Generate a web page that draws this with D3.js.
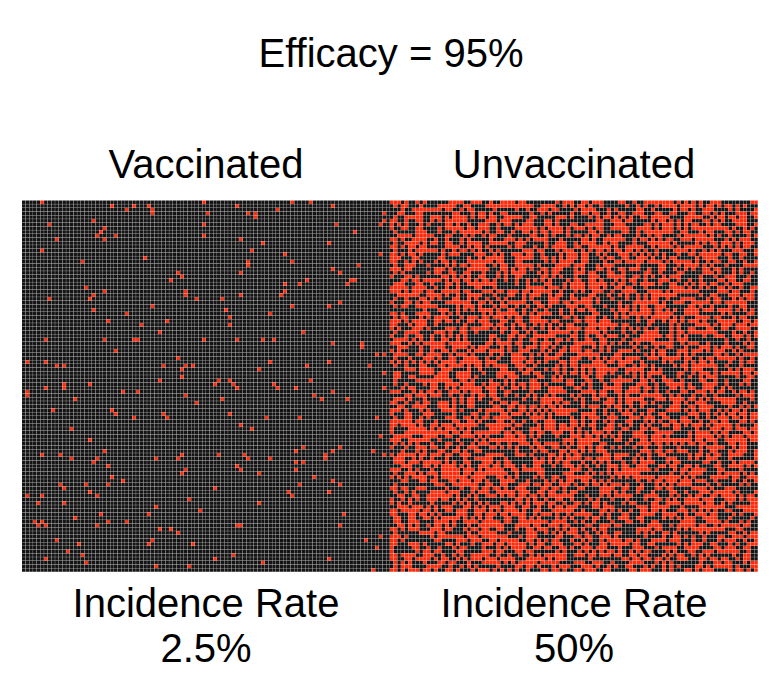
<!DOCTYPE html>
<html>
<head>
<meta charset="utf-8">
<script src="https://cdn.jsdelivr.net/npm/d3@7"></script>
<style>
  body { margin: 0; background: #fff; }
  text { font-family: "Liberation Sans", Arial, sans-serif; fill: #000; }
</style>
</head>
<body>
<svg id="chart" width="776" height="692"></svg>
<script>
const title = "Efficacy = 95%";
const groups = ["Vaccinated", "Unvaccinated"];
const rateLabels = ["2.5%", "50%"];
const gridSize = 100; // 100 x 100 people per group
const infectedCounts = [250, 5000];

// infected cells, [column, row]
const vaccinatedInfected = [
  [5,0],[49,0],[24,1],[30,1],[34,1],[28,2],[35,2],[35,3],[7,6],[19,5],[49,6],[22,7],[21,8],[20,9],
  [25,9],[49,9],[9,10],[22,10],[5,13],[16,16],[33,15],[42,19],[43,20],[40,21],[17,23],[22,24],
  [44,24],[44,25],[19,25],[7,26],[18,26],[47,26],[35,28],[19,29],[28,30],[23,32],[39,32],[32,33],
  [37,35],[6,37],[22,37],[30,37],[31,37],[49,37],[25,40],[42,42],[1,43],[6,43],[9,44],[11,44],
  [38,44],[44,44],[46,44],[43,45],[43,47],[11,49],[18,49],[37,48],
  [58,1],[50,3],[61,3],[63,3],[63,4],[69,2],[73,0],[78,0],[84,1],[98,3],[98,5],[97,6],[85,6],
  [90,8],[59,10],[65,11],[83,11],[62,13],[71,14],[97,14],[73,16],[61,16],[61,17],[91,17],[84,18],
  [59,19],[86,19],[89,21],[90,21],[77,21],[88,22],[71,22],[75,22],[71,24],[70,25],[54,26],[59,25],
  [73,28],[83,28],[86,27],[55,29],[56,31],[56,33],[67,30],[76,35],[58,37],[65,37],[68,37],[84,38],
  [92,38],[92,39],[96,41],[98,41],[67,43],[83,43],[77,44],[94,44],[64,45],[98,46],[53,48],[56,48],
  [52,49],[57,49],[68,49],[78,48],
  [1,51],[1,52],[6,50],[11,50],[27,51],[31,51],[44,52],[47,54],[14,53],[8,56],[24,56],[25,57],
  [38,57],[39,58],[30,58],[13,61],[18,64],[22,67],[5,68],[10,68],[13,69],[20,69],[19,70],[23,71],
  [36,69],[42,69],[43,68],[44,72],[43,73],[24,74],[27,75],[10,76],[11,77],[17,76],[23,76],[18,78],
  [1,79],[5,79],[20,79],[4,81],[11,81],[45,80],[36,82],[48,83],[34,84],[21,84],[14,85],[3,86],
  [5,86],[4,87],[6,87],[20,87],[23,86],[28,86],[37,88],[40,88],[42,89],[9,91],[15,92],[35,91],
  [34,92],[46,92],[12,94],[16,95],[6,96],[17,97],[36,98],[45,98],
  [58,50],[69,50],[74,50],[98,50],[84,51],[79,52],[81,53],[88,53],[54,53],[56,57],[66,58],[75,58],
  [96,58],[59,60],[62,61],[97,63],[76,66],[86,66],[74,67],[84,67],[95,67],[53,68],[60,68],[61,69],
  [67,69],[82,68],[82,69],[98,68],[74,70],[76,70],[58,71],[59,72],[74,72],[64,73],[79,74],[84,75],
  [86,76],[75,76],[52,77],[72,78],[73,79],[83,78],[64,81],[87,84],[58,87],[59,87],[86,87],[97,90],
  [93,91],[96,93],[57,95],[52,96],[65,97],[83,96],[95,99]
];

const colorHealthy = "#141414";
const colorInfected = "#ff2a0a";

const svg = d3.select("#chart");
const panelTop = 200.5, panelHeight = 371.5;
const x = d3.scaleBand().domain(groups).range([22, 758]).paddingInner(0);
const idx = d3.range(gridSize);
const fontSize = 40;

svg.append("text")
  .attr("x", 391).attr("y", 67)
  .attr("text-anchor", "middle")
  .attr("font-size", fontSize)
  .text(title);

// positions of the unvaccinated panel's infected cells cannot be read one by one:
// a fixed-seed shuffle places exactly the stated count
function seeded(seed) {
  return function () {
    seed |= 0; seed = seed + 0x6D2B79F5 | 0;
    let t = Math.imul(seed ^ seed >>> 15, 1 | seed);
    t = t + Math.imul(t ^ t >>> 7, 61 | t) ^ t;
    return ((t ^ t >>> 14) >>> 0) / 4294967296;
  };
}
const shuffled = d3.shuffler(seeded(2021))(d3.range(gridSize * gridSize));
const unvaccinatedSet = new Set(shuffled.slice(0, infectedCounts[1]));
const vaccinatedSet = new Set(vaccinatedInfected.map(([c, r]) => r * gridSize + c));
const sets = [vaccinatedSet, unvaccinatedSet];

groups.forEach((name, gi) => {
  const col = d3.scaleBand().domain(idx).range([x(name), x(name) + x.bandwidth()]);
  const row = d3.scaleBand().domain(idx).range([panelTop, panelTop + panelHeight]);
  const cells = d3.range(gridSize * gridSize).map(i => ({
    c: i % gridSize, r: Math.floor(i / gridSize), infected: sets[gi].has(i)
  }));
  const gap = 0.25;
  svg.append("g")
    .selectAll("rect")
    .data(cells)
    .join("rect")
    .attr("x", d => col(d.c))
    .attr("y", d => row(d.r))
    .attr("width", col.bandwidth() - gap)
    .attr("height", row.bandwidth() - gap)
    .attr("fill", d => d.infected ? colorInfected : colorHealthy);

  const cx = x(name) + x.bandwidth() / 2;
  svg.append("text")
    .attr("x", cx).attr("y", 178)
    .attr("text-anchor", "middle")
    .attr("font-size", fontSize)
    .text(name);
  svg.append("text")
    .attr("x", cx).attr("y", 617)
    .attr("text-anchor", "middle")
    .attr("font-size", fontSize)
    .text("Incidence Rate");
  svg.append("text")
    .attr("x", cx).attr("y", 662)
    .attr("text-anchor", "middle")
    .attr("font-size", fontSize)
    .text(rateLabels[gi]);
});
</script>
</body>
</html>
